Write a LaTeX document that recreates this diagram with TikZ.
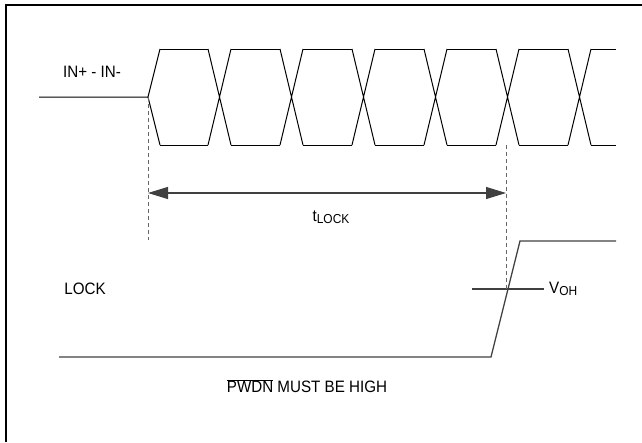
\documentclass[tikz,border=0pt]{standalone}
\usepackage{fontspec}
\setmainfont{Liberation Sans}[FakeStretch=0.92]
\usetikzlibrary{arrows.meta}

\newcommand{\subtxt}[1]{\raisebox{-2.5pt}{\fontsize{13}{15}\selectfont #1}}

\begin{document}
\begin{tikzpicture}[x=1pt, y=-1pt,
    lbl/.style={inner sep=0pt, font=\fontsize{16.5}{19}\selectfont},
    eye/.style={line width=1pt, black},
    sig/.style={line width=1.3pt, black!75},
    guide/.style={line width=1pt, black!60, dash pattern=on 4pt off 3pt}]

\useasboundingbox (0,0) rectangle (642,442);

% Frame
\draw[line width=2pt] (6,442) -- (6,5) -- (642,5);

% Nodes
\node[lbl] (inlbl) at (92,72) {IN+ - IN-};
\node[lbl] (locklbl) at (85,289) {LOCK};
\node[lbl] (tlock) at (331,217) {t\subtxt{LOCK}};
\node[lbl, anchor=west] (voh) at (549,289) {V\subtxt{OH}};
\node[lbl] (pwdn) at (307,386) {$\overline{\mbox{PWDN}}$ MUST BE HIGH};

% Coordinates
\coordinate (idle) at (39,97);
\coordinate (start) at (148,97);
\coordinate (startlow) at (148,240);
\coordinate (tl) at (148,193);
\coordinate (tr) at (506,193);
\coordinate (locked) at (506,145);
\coordinate (lockedlow) at (506,289);
\coordinate (lowstart) at (59,357);
\coordinate (rise) at (491,357);
\coordinate (high) at (520,241);
\coordinate (highend) at (616,241);
\coordinate (vohl) at (472,289);
\coordinate (vohr) at (544,289);

% Input eye
\draw[eye] (idle) -- (start) -- (160,49) (start) -- (160,145);
\foreach \a/\b in {160/208, 231/280, 303/352, 375/424, 447/496, 519/568, 591/616}
  \draw[eye] (\a,49) -- (\b,49) (\a,145) -- (\b,145);
\foreach \k in {0,...,5} {
  \pgfmathsetmacro{\xa}{208+72*\k}
  \draw[eye] (\xa,49) -- ++(23,96) (\xa,145) -- ++(23,-96);
}

% LOCK output
\draw[sig] (lowstart) -- (rise) -- (high) -- (highend);
\draw[sig] (vohl) -- (vohr);

% Arrows
\draw[guide] (start) -- (startlow);
\draw[guide] (locked) -- (lockedlow);
\draw[line width=1.2pt, black!75, {Triangle[length=20pt,width=12pt]}-{Triangle[length=20pt,width=12pt]}] (tl) -- (tr);

\end{tikzpicture}
\end{document}
